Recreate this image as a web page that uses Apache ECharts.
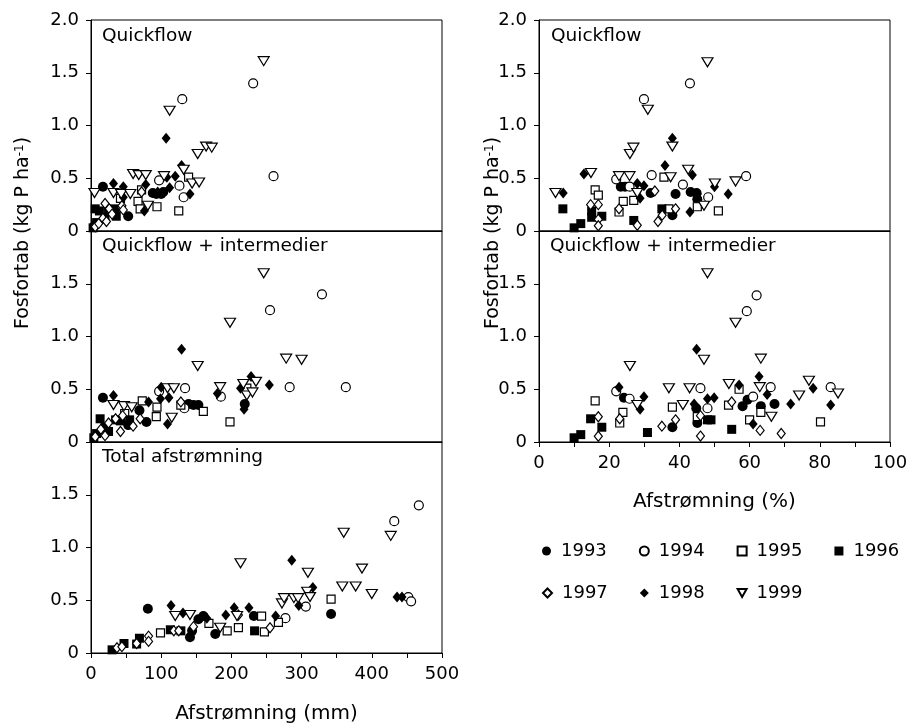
<!DOCTYPE html>
<html><head><meta charset="utf-8">
<script src="https://cdn.jsdelivr.net/npm/echarts/dist/echarts.min.js"></script>
<style>html,body{margin:0;padding:0;background:#fff}#c{width:919px;height:727px}</style>
</head><body><div id="c"></div>
<script>
// ---- Data: [x, y] per panel per year ----
const years = ['1993','1994','1995','1996','1997','1998','1999'];
const xTicksMm = [0,100,200,300,400,500];
const xTicksPct = [0,20,40,60,80,100];
const yTicks = [0,0.5,1.0,1.5,2.0];

// Quickflow (mm)
const qfMm1993 = [[6,0.06],[17,0.42],[34,0.19],[53,0.14],[88,0.36],[93,0.35],[100,0.35],[103,0.37]];
const qfMm1994 = [[97,0.48],[126,0.43],[130,1.25],[132,0.32],[231,1.40],[260,0.52]];
const qfMm1995 = [[42,0.31],[67,0.28],[70,0.21],[72,0.39],[94,0.23],[125,0.19],[139,0.51]];
const qfMm1996 = [[3,0.03],[6,0.21],[8,0.08],[12,0.19],[20,0.13],[25,0.20],[32,0.21],[36,0.14]];
const qfMm1997 = [[6,0.04],[11,0.07],[17,0.12],[20,0.26],[22,0.09],[26,0.21],[30,0.16],[44,0.24],[46,0.20],[72,0.37]];
const qfMm1998 = [[32,0.45],[46,0.42],[46,0.32],[76,0.19],[78,0.44],[95,0.37],[107,0.88],[108,0.51],[112,0.41],[120,0.52],[129,0.62],[141,0.35]];
const qfMm1999 = [[5,0.36],[32,0.36],[43,0.35],[56,0.35],[60,0.54],[68,0.53],[78,0.53],[81,0.24],[104,0.52],[112,1.14],[132,0.58],[144,0.45],[152,0.73],[154,0.46],[164,0.80],[172,0.79],[246,1.61]];

// Quickflow + intermedier (mm)
const qfiMm1993 = [[17,0.42],[53,0.16],[69,0.30],[79,0.19],[139,0.36],[146,0.35],[153,0.35],[219,0.36]];
const qfiMm1994 = [[97,0.48],[133,0.32],[134,0.51],[185,0.43],[255,1.25],[283,0.52],[329,1.40],[363,0.52]];
const qfiMm1995 = [[48,0.27],[73,0.39],[93,0.24],[94,0.33],[128,0.35],[160,0.29],[198,0.19],[222,0.51]];
const qfiMm1996 = [[4,0.04],[8,0.08],[13,0.22],[20,0.14],[25,0.10],[35,0.21],[42,0.20],[55,0.21]];
const qfiMm1997 = [[6,0.05],[14,0.12],[20,0.06],[25,0.18],[35,0.22],[42,0.10],[45,0.25],[60,0.15],[70,0.22],[128,0.38]];
const qfiMm1998 = [[32,0.44],[82,0.38],[99,0.41],[100,0.52],[109,0.17],[111,0.42],[129,0.88],[180,0.46],[213,0.51],[218,0.31],[228,0.62],[254,0.54]];
const qfiMm1999 = [[32,0.35],[47,0.34],[58,0.33],[109,0.51],[115,0.23],[118,0.51],[152,0.72],[184,0.52],[198,1.13],[217,0.55],[222,0.44],[230,0.47],[235,0.57],[246,1.60],[278,0.79],[300,0.78]];

// Total afstrømning (mm)
const totMm1993 = [[81,0.42],[141,0.15],[144,0.21],[153,0.32],[160,0.35],[177,0.18],[232,0.35],[342,0.37]];
const totMm1994 = [[277,0.33],[306,0.44],[432,1.25],[452,0.53],[456,0.49],[467,1.40]];
const totMm1995 = [[99,0.19],[168,0.28],[194,0.21],[210,0.24],[243,0.35],[247,0.20],[267,0.29],[342,0.51]];
const totMm1996 = [[30,0.03],[47,0.09],[65,0.085],[69,0.14],[113,0.22],[128,0.21],[233,0.21]];
const totMm1997 = [[37,0.05],[44,0.06],[65,0.09],[82,0.16],[82,0.11],[118,0.21],[125,0.21],[146,0.25],[210,0.36],[255,0.24]];
const totMm1998 = [[114,0.45],[131,0.38],[165,0.33],[192,0.36],[204,0.43],[225,0.43],[263,0.35],[286,0.88],[296,0.45],[316,0.62],[436,0.53],[443,0.53]];
const totMm1999 = [[120,0.35],[141,0.36],[184,0.24],[208,0.35],[213,0.85],[272,0.47],[275,0.52],[289,0.52],[295,0.52],[308,0.58],[309,0.76],[312,0.53],[358,0.63],[360,1.14],[377,0.63],[386,0.80],[400,0.56],[427,1.11]];

// Quickflow (%)
const qfPct1993 = [[23.3,0.42],[24.5,0.42],[31.8,0.36],[38,0.15],[38.9,0.35],[43.2,0.37],[44.9,0.36],[45.1,0.30]];
const qfPct1994 = [[22,0.49],[25.8,0.42],[29.9,1.25],[32.1,0.53],[41,0.44],[43,1.40],[48.2,0.32],[59,0.52]];
const qfPct1995 = [[16,0.39],[16.9,0.34],[22.8,0.18],[24,0.28],[27,0.29],[35.6,0.51],[37,0.21],[45.1,0.23],[51.1,0.19]];
const qfPct1996 = [[6.8,0.21],[10,0.03],[11.9,0.07],[15,0.19],[15,0.13],[17.9,0.14],[27,0.10],[35,0.21]];
const qfPct1997 = [[14.7,0.25],[16.9,0.25],[16.9,0.11],[16.9,0.05],[22.8,0.21],[28,0.055],[33,0.38],[33.9,0.09],[35.1,0.15],[38.9,0.21]];
const qfPct1998 = [[6.9,0.36],[12.8,0.54],[28,0.45],[29.9,0.43],[28.8,0.31],[35.9,0.62],[38,0.88],[43.7,0.53],[43,0.18],[45.1,0.35],[50,0.42],[53.9,0.35]];
const qfPct1999 = [[4.7,0.36],[14.8,0.55],[22.8,0.52],[25.8,0.52],[25.9,0.73],[26.9,0.79],[28,0.36],[31,1.15],[37.5,0.51],[38,0.80],[42.5,0.58],[47,0.24],[48,1.60],[50.1,0.45],[56,0.47]];

// Quickflow + intermedier (%)
const qfiPct1993 = [[24.2,0.42],[38,0.14],[44.8,0.32],[45.1,0.18],[58,0.34],[59.4,0.40],[63.2,0.34],[67.1,0.36]];
const qfiPct1994 = [[22,0.48],[25.8,0.41],[46,0.51],[48,0.32],[59.2,1.24],[61,0.43],[62,1.39],[66,0.52],[83.1,0.52]];
const qfiPct1995 = [[16,0.39],[23,0.18],[23.9,0.28],[38,0.33],[45.1,0.24],[54,0.35],[57,0.50],[60,0.21],[63.2,0.28],[80.2,0.19]];
const qfiPct1996 = [[10,0.04],[11.9,0.07],[14.7,0.22],[17.9,0.14],[30.9,0.09],[48,0.21],[49,0.21],[54.9,0.12]];
const qfiPct1997 = [[16.9,0.24],[16.9,0.055],[23,0.22],[35,0.15],[38.9,0.21],[46,0.25],[46,0.056],[54.9,0.38],[63,0.11],[69,0.08]];
const qfiPct1998 = [[22.8,0.52],[28.8,0.31],[29.9,0.43],[44.2,0.36],[44.9,0.88],[48,0.41],[49.9,0.42],[57,0.54],[61,0.17],[62.7,0.62],[65,0.45],[71.7,0.36],[78.1,0.51],[83.1,0.35]];
const qfiPct1999 = [[25.9,0.72],[28,0.35],[37,0.51],[41,0.35],[42.9,0.51],[47,0.78],[48,1.60],[54.1,0.55],[56,1.13],[62.9,0.52],[63.2,0.79],[66.2,0.24],[74.1,0.44],[76.9,0.58],[85.2,0.46]];

// ---- Assemble (grid index -> per-year data) ----
const panels = [
  [qfMm1993,qfMm1994,qfMm1995,qfMm1996,qfMm1997,qfMm1998,qfMm1999],
  [qfiMm1993,qfiMm1994,qfiMm1995,qfiMm1996,qfiMm1997,qfiMm1998,qfiMm1999],
  [totMm1993,totMm1994,totMm1995,totMm1996,totMm1997,totMm1998,totMm1999],
  [qfPct1993,qfPct1994,qfPct1995,qfPct1996,qfPct1997,qfPct1998,qfPct1999],
  [qfiPct1993,qfiPct1994,qfiPct1995,qfiPct1996,qfiPct1997,qfiPct1998,qfiPct1999]
];

const FONT = 'DejaVu Sans';
const TRI = 'path://M0,0L10,0L5,9Z';
const styles = [
  {symbol:'circle', size:10, fill:'#000'},
  {symbol:'circle', size:9, fill:'#fff'},
  {symbol:'rect', size:8, fill:'#fff'},
  {symbol:'rect', size:9, fill:'#000'},
  {symbol:'diamond', size:[8,10], fill:'#fff'},
  {symbol:'diamond', size:[9,11], fill:'#000'},
  {symbol:TRI, size:[11,9], fill:'#fff'}
];

const gridDefs = [
  {left:91, top:20, width:351, height:211},
  {left:91, top:231, width:351, height:211},
  {left:91, top:442, width:351, height:211},
  {left:539, top:20, width:351, height:211},
  {left:539, top:231, width:351, height:211}
];

const grids = gridDefs.map(g => Object.assign({show:true, borderColor:'#000', borderWidth:1, backgroundColor:'transparent', containLabel:false}, g));

const axisLineStyle = {show:true, lineStyle:{color:'#000', width:1}};
const tickStyle = {show:true, inside:false, length:5, lineStyle:{color:'#000', width:1}};
const labelBase = {color:'#000', fontFamily:FONT, fontSize:18};

const xAxes = gridDefs.map((g, i) => {
  const isMm = i < 3;
  const showLab = (i === 2 || i === 4);
  const ax = {
    type:'value', gridIndex:i, min:0, max: isMm ? 500 : 100, interval: isMm ? 50 : 10,
    splitLine:{show:false}, axisLine:axisLineStyle,
    axisTick: showLab ? tickStyle : {show:false},
    axisLabel: showLab ? Object.assign({}, labelBase, {show:true, margin:12, interval:0,
      showMinLabel:true, showMaxLabel:true,
      formatter: v => {
        const list = isMm ? xTicksMm : xTicksPct;
        return list.indexOf(v) >= 0 ? String(v) : '';
      }}) : {show:false}
  };
  if (i === 2) {
    ax.name = 'Afstrømning (mm)'; ax.nameLocation = 'middle'; ax.nameGap = 51;
    ax.nameTextStyle = {color:'#000', fontFamily:FONT, fontSize:20};
  }
  if (i === 4) {
    ax.name = 'Afstrømning (%)'; ax.nameLocation = 'middle'; ax.nameGap = 50;
    ax.nameTextStyle = {color:'#000', fontFamily:FONT, fontSize:20};
  }
  return ax;
});

const yAxes = gridDefs.map((g, i) => {
  const isTop = (i === 0 || i === 3);
  return {
    type:'value', gridIndex:i, min:0, max:2, interval:0.5,
    splitLine:{show:false}, axisLine:axisLineStyle, axisTick:tickStyle,
    axisLabel: Object.assign({}, labelBase, {margin:12, showMinLabel:true, showMaxLabel:true,
      formatter: v => {
        if (yTicks.indexOf(v) < 0) return '';
        if (v === 2 && !isTop) return '';
        return v === 0 ? '0' : v.toFixed(1);
      }})
  };
});

const series = [];
panels.forEach((yearsData, gi) => {
  yearsData.forEach((data, yi) => {
    const st = styles[yi];
    series.push({
      type:'scatter', name: years[yi], xAxisIndex:gi, yAxisIndex:gi, data: data,
      symbol: st.symbol, symbolSize: st.size,
      itemStyle:{color: st.fill, borderColor:'#000', borderWidth: st.fill === '#fff' ? 1.2 : 0, opacity:1},
      emphasis:{disabled:true}, silent:true, z: 2 + yi
    });
  });
});

const legendText = {color:'#000', fontFamily:FONT, fontSize:18, padding:[0,0,0,5]};
const legends = [
  {data: years.slice(0,4), left:542, top:542, itemWidth:9, itemHeight:9, itemGap:32, selectedMode:false, textStyle:legendText, padding:0},
  {data: years.slice(4), left:542, top:584, itemWidth:9, itemHeight:9, itemGap:32, selectedMode:false, textStyle:legendText, padding:0}
];

const txt = (x, y, t) => ({type:'text', x:x, y:y, style:{text:t, fill:'#000', font:'18.5px "' + FONT + '"', textAlign:'left', textVerticalAlign:'top'}});
const ytitle = (x) => ({
  type:'text', x:x, y:233, rotation:Math.PI/2,
  style:{text:'Fosfortab (kg P ha{s|-1})', fill:'#000', font:'19px "' + FONT + '"',
    textAlign:'center', textVerticalAlign:'middle',
    rich:{s:{fontSize:12, fontFamily:FONT, verticalAlign:'top', fill:'#000'}}}
});

const option = {
  animation:false,
  backgroundColor:'#fff',
  grid: grids, xAxis: xAxes, yAxis: yAxes, series: series, legend: legends,
  graphic: [
    txt(102, 27, 'Quickflow'),
    txt(551, 27, 'Quickflow'),
    txt(102, 237, 'Quickflow + intermedier'),
    txt(550, 237, 'Quickflow + intermedier'),
    txt(102, 448, 'Total afstrømning'),
    ytitle(23), ytitle(493)
  ]
};

const chart = echarts.init(document.getElementById('c'), null, {renderer:'canvas'});
chart.setOption(option);
</script></body></html>
